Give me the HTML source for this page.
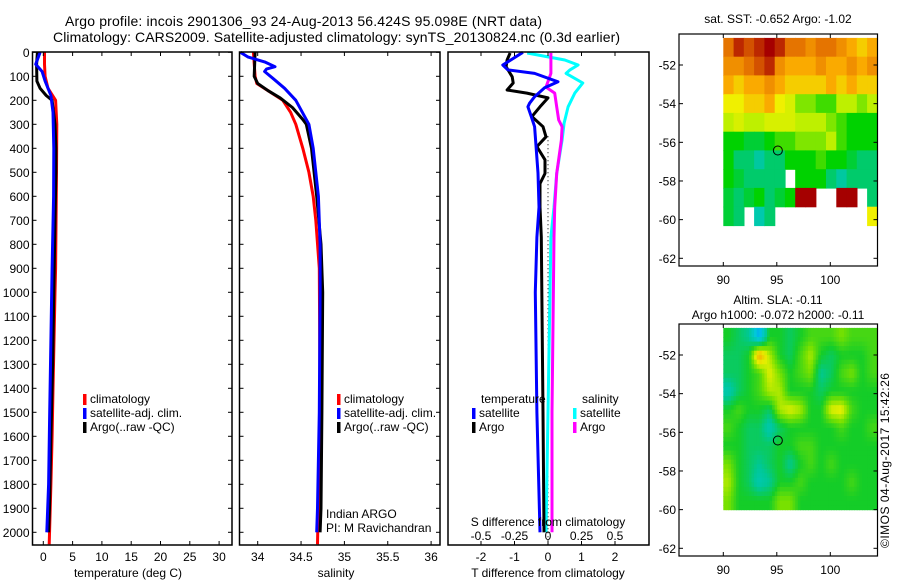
<!DOCTYPE html>
<html><head><meta charset="utf-8">
<style>
html,body{margin:0;padding:0;background:#fff;}
svg{display:block;font-family:"Liberation Sans",sans-serif;}
text{fill:#000;}
</style></head>
<body>
<svg id="chart" width="900" height="580" viewBox="0 0 900 580" xmlns="http://www.w3.org/2000/svg">
<g id="titles">
<text x="65" y="26" font-size="14" textLength="477">Argo profile: incois 2901306_93 24-Aug-2013 56.424S 95.098E (NRT data)</text>
<text x="53" y="42" font-size="14" textLength="567">Climatology: CARS2009. Satellite-adjusted climatology: synTS_20130824.nc (0.3d earlier)</text>
</g>
<g id="p1"></g>
<g id="p2"></g>
<g id="p3"></g>
<g id="m1"></g>
<g id="m2"></g>
<text transform="translate(889,548) rotate(-90)" font-size="12" textLength="175">©IMOS 04-Aug-2017 15:42:26</text>
</svg>
<script>
// ---- data ----
const depthTicks = [0,100,200,300,400,500,600,700,800,900,1000,1100,1200,1300,1400,1500,1600,1700,1800,1900,2000];
const tempTicks = [0,5,10,15,20,25,30];
const salTicks = [34,34.5,35,35.5,36];
const tdiffTicks = [-2,-1,0,1,2];
const sdiffTicks = [-0.5,-0.25,0,0.25,0.5];
const sdiffLabels = ["-0.5","-0.25","0","0.25","0.5"];

const climTDepth = [0,50,100,150,200,300,500,900,1000,1400,1600,1800,2050];
const climT = [0.2,0.2,0.3,0.8,2.1,2.3,2.25,2.1,2.0,1.65,1.5,1.3,1.0];
const satTDepth = [0,50,80,120,180,250,400,600,900,1200,1500,1800,2000];
const satT = [-0.55,-1.3,-0.2,0.3,1.3,1.65,1.8,1.75,1.5,1.3,1.1,0.9,0.6];
const argoTDepth = [0,50,120,150,180,200,300,400,500,700,1000,1300,1600,1900,2000];
const argoT = [-1.0,-1.15,-1.1,-0.55,0.5,1.5,2.0,2.15,2.15,2.0,1.8,1.6,1.3,1.05,0.9];

const climSDepth = [0,100,130,160,200,250,300,400,500,600,700,900,1500,2050];
const climS = [33.95,33.97,33.99,34.12,34.29,34.38,34.44,34.52,34.59,34.64,34.67,34.71,34.72,34.69];
const satSDepth = [0,20,40,60,70,80,110,150,200,300,400,500,600,800,1000,1500,1900,2000];
const satS = [33.8,33.89,34.08,34.2,34.1,34.08,34.18,34.31,34.44,34.59,34.64,34.67,34.7,34.72,34.72,34.71,34.69,34.68];
const argoSDepth = [0,100,130,160,190,230,280,300,400,600,800,1000,1500,1900,2000];
const argoS = [33.97,33.96,34.0,34.12,34.26,34.4,34.52,34.56,34.62,34.68,34.73,34.75,34.74,34.73,34.72];

const dTSatDepth = [0,53,73,88,123,148,185,212,227,268,310,503,645,770,1000,1500,2000];
const dTSat = [-0.75,-1.35,-1.2,-0.4,0.3,-0.1,-0.4,-0.55,-0.6,-0.5,-0.4,-0.3,-0.27,-0.33,-0.38,-0.33,-0.24];
const dTArgoDepth = [3,32,60,102,128,157,170,190,227,268,310,352,393,448,505,547,645,770,1500,2000];
const dTArgo = [-1.13,-1.22,-1.25,-1.07,-1.04,-1.22,-0.63,0,-0.24,-0.48,-0.15,-0.06,-0.33,-0.09,-0.09,-0.24,-0.24,-0.2,-0.15,-0.12];
const dSSatDepth = [3,32,53,73,88,128,170,227,295,365,505,645,770,1500,2000];
const dSSat = [-0.155,0.125,0.225,0.165,0.135,0.26,0.2,0.15,0.12,0.105,0.065,0.045,0.022,0,-0.015];
const dSArgoDepth = [3,88,145,170,227,282,310,365,505,645,770,1500,2000];
const dSArgo = [0.022,0.022,-0.015,0.05,0.065,0.08,0.105,0.1,0.065,0.05,0.045,0.03,0.03];

const mapLonTicks = [90,95,100];
const mapLatTicks = [-52,-54,-56,-58,-60,-62];
const sstGrid = [
[0.85,0.95,0.9,0.95,1,0.95,0.85,0.85,0.8,0.85,0.85,0.8,0.75,0.7,0.75],
[0.8,0.8,0.85,0.9,0.95,0.8,0.75,0.75,0.75,0.8,0.75,0.75,0.8,0.75,0.8],
[0.75,0.7,0.75,0.75,0.8,0.75,0.7,0.7,0.7,0.7,0.75,0.7,0.75,0.7,0.7],
[0.65,0.65,0.7,0.7,0.75,0.65,0.6,0.5,0.5,0.45,0.45,0.55,0.55,0.5,0.55],
[0.55,0.6,0.55,0.55,0.6,0.6,0.6,0.55,0.55,0.55,0.5,0.45,0.4,0.4,0.4],
[0.4,0.4,0.35,0.35,0.4,0.45,0.45,0.5,0.5,0.5,0.55,0.45,0.4,0.4,0.4],
[0.4,0.3,0.3,0.25,0.3,0.3,0.4,0.4,0.4,0.45,0.4,0.4,0.35,0.3,0.3],
[0.4,0.35,0.3,0.3,0.3,0.3,-1,0.4,0.4,0.4,0.3,0.25,0.3,0.3,0.3],
[0.35,0.3,0.35,0.4,0.3,0.35,0.4,1,1,-1,-1,1,1,-1,0.3],
[0.35,0.3,-1,0.2,0.3,-1,-1,-1,-1,-1,-1,-1,-1,-1,0.65]];
const slaGrid = [
[0.4,0.35,0.3,0.1,0.4,0.4,0.35,0.4,0.45,0.45,0.45,0.5,0.45,0.45,0.45],
[0.35,0.35,0.4,0.75,0.55,0.4,0.35,0.45,0.55,0.4,0.35,0.4,0.4,0.4,0.45],
[0.35,0.35,0.4,0.45,0.6,0.5,0.4,0.45,0.5,0.3,0.35,0.45,0.5,0.4,0.45],
[0.25,0.35,0.4,0.45,0.55,0.55,0.4,0.4,0.4,0.35,0.4,0.4,0.4,0.4,0.4],
[0.4,0.45,0.4,0.4,0.35,0.55,0.6,0.55,0.4,0.4,0.6,0.62,0.45,0.4,0.4],
[0.45,0.4,0.35,0.35,0.25,0.35,0.4,0.4,0.4,0.4,0.4,0.45,0.4,0.4,0.45],
[0.4,0.4,0.35,0.35,0.35,0.4,0.4,0.45,0.45,0.4,0.4,0.4,0.4,0.4,0.4],
[0.5,0.4,0.35,0.3,0.35,0.4,0.3,0.4,0.45,0.4,0.45,0.4,0.4,0.4,0.4],
[0.55,0.4,0.35,0.25,0.3,0.4,0.4,0.45,0.4,0.4,0.4,0.4,0.45,0.4,0.4],
[0.5,0.4,0.4,0.4,0.4,0.5,0.5,0.4,0.4,0.4,0.4,0.4,0.4,0.4,0.4]];
const argoLon = 95.098, argoLat = -56.424;

// ---- helpers ----
const NS = "http://www.w3.org/2000/svg";
function mk(tag, attrs, parent) {
  const e = document.createElementNS(NS, tag);
  for (const k in attrs) e.setAttribute(k, attrs[k]);
  parent.appendChild(e);
  return e;
}
const Y = d => 52.3 + d * 0.24;
const TOP = 52, BOT = 545;
const xT = t => 43.3 + t * 5.86;
const xS = s => 257.7 + (s - 34) * 86.7;
const xDT = v => 548 + v * 33.5;
const xDS = v => 548 + v * 134;
const FS = 12;

function frame(g, x0, x1, name) {
  const r = mk('rect', {x:x0, y:TOP, width:x1-x0, height:BOT-TOP, fill:'none', stroke:'#000', 'stroke-width':1.5}, g);
  
  
}
function line(g, depths, vals, fx, color, name) {
  const pts = depths.map((d,i) => fx(vals[i]).toFixed(1) + ',' + Y(d).toFixed(1)).join(' ');
  const p = mk('polyline', {points:pts, fill:'none', stroke:color, 'stroke-width':3, 'stroke-linejoin':'round'}, g);
  
  
}
function depthTicksDraw(g, x0, x1, labels) {
  depthTicks.forEach(d => {
    const y = Y(d);
    mk('line', {x1:x0, y1:y, x2:x0+4, y2:y, stroke:'#000'}, g);
    mk('line', {x1:x1-4, y1:y, x2:x1, y2:y, stroke:'#000'}, g);
    if (labels) {
      const t = mk('text', {x:x0-3, y:y+4.5, 'font-size':FS, 'text-anchor':'end'}, g);
      t.textContent = d;
      
      
    }
  });
}
function xTicksDraw(g, ticks, labels, fx, ly) {
  ticks.forEach((v,i) => {
    const x = fx(v);
    mk('line', {x1:x, y1:TOP, x2:x, y2:TOP+4, stroke:'#000'}, g);
    mk('line', {x1:x, y1:BOT-4, x2:x, y2:BOT, stroke:'#000'}, g);
    const t = mk('text', {x:x, y:ly, 'font-size':FS, 'text-anchor':'middle'}, g);
    t.textContent = labels[i];
    
    
  });
}
function legendEntry(g, x, y, color, label) {
  const m = mk('rect', {x:x, y:y-9, width:3.5, height:11, fill:color}, g);
  
  
  const t = mk('text', {x:x+7, y:y, 'font-size':FS}, g);
  t.textContent = label;
  
  
}
function txt(g, x, y, s, size, anchor, name) {
  const t = mk('text', {x:x, y:y, 'font-size':size, 'text-anchor':anchor||'start'}, g);
  t.textContent = s;
  
  
  return t;
}

// ---- panel 1: temperature ----
const p1 = document.getElementById('p1');
line(p1, climTDepth, climT, xT, '#f00', 'climatology-temperature-line');
line(p1, argoTDepth, argoT, xT, '#000', 'argo-temperature-line');
line(p1, satTDepth, satT, xT, '#00f', 'satellite-temperature-line');
frame(p1, 32.5, 232, 'temperature-axes');
depthTicksDraw(p1, 32.5, 232, true);
xTicksDraw(p1, tempTicks, tempTicks.map(String), xT, 561);
txt(p1, 128, 577, 'temperature (deg C)', FS, 'middle', 'x-axis-title-temperature');
legendEntry(p1, 83, 403, '#f00', 'climatology');
legendEntry(p1, 83, 417, '#00f', 'satellite-adj. clim.');
legendEntry(p1, 83, 431, '#000', 'Argo(..raw -QC)');

// ---- panel 2: salinity ----
const p2 = document.getElementById('p2');
line(p2, climSDepth, climS, xS, '#f00', 'climatology-salinity-line');
line(p2, argoSDepth, argoS, xS, '#000', 'argo-salinity-line');
line(p2, satSDepth, satS, xS, '#00f', 'satellite-salinity-line');
frame(p2, 239.5, 440, 'salinity-axes');
depthTicksDraw(p2, 239.5, 440, false);
xTicksDraw(p2, salTicks, salTicks.map(String), xS, 561);
txt(p2, 336, 577, 'salinity', FS, 'middle', 'x-axis-title-salinity');
legendEntry(p2, 337, 403, '#f00', 'climatology');
legendEntry(p2, 337, 417, '#00f', 'satellite-adj. clim.');
legendEntry(p2, 337, 431, '#000', 'Argo(..raw -QC)');
txt(p2, 326, 518, 'Indian ARGO', FS, 'start', 'credit-indian-argo');
txt(p2, 326, 532, 'PI: M Ravichandran', FS, 'start', 'credit-pi');

// ---- panel 3: differences ----
const p3 = document.getElementById('p3');
const zl = mk('line', {x1:xDT(0), y1:Y(350), x2:xDT(0), y2:BOT, stroke:'#000', 'stroke-dasharray':'1,3'}, p3);


line(p3, dSSatDepth, dSSat, xDS, '#0ff', 'salinity-satellite-diff-line');
line(p3, dSArgoDepth, dSArgo, xDS, '#f0f', 'salinity-argo-diff-line');
line(p3, dTArgoDepth, dTArgo, xDT, '#000', 'temperature-argo-diff-line');
line(p3, dTSatDepth, dTSat, xDT, '#00f', 'temperature-satellite-diff-line');
frame(p3, 448, 649, 'difference-axes');
xTicksDraw(p3, tdiffTicks, tdiffTicks.map(String), xDT, 561);
sdiffTicks.forEach((v,i) => {
  txt(p3, xDS(v), 540, sdiffLabels[i], FS, 'middle', 'top-tick-label');
});
txt(p3, 548, 526, 'S difference from climatology', FS, 'middle', 's-diff-axis-title');
txt(p3, 548, 577, 'T difference from climatology', FS, 'middle', 't-diff-axis-title');
txt(p3, 481, 403, 'temperature', FS, 'start', 'legend-title-temperature');
txt(p3, 582, 403, 'salinity', FS, 'start', 'legend-title-salinity');
legendEntry(p3, 472, 417, '#00f', 'satellite');
legendEntry(p3, 472, 431, '#000', 'Argo');
legendEntry(p3, 573, 417, '#0ff', 'satellite');
legendEntry(p3, 573, 431, '#f0f', 'Argo');

// ---- maps ----
const sstStops = [[0,[0,205,230]],[0.25,[0,200,160]],[0.4,[0,210,0]],[0.55,[190,240,0]],[0.65,[240,240,0]],[0.75,[250,170,0]],[0.87,[225,105,0]],[1,[165,0,0]]];
const slaStops = [[0,[0,90,230]],[0.15,[0,200,230]],[0.3,[0,200,150]],[0.4,[20,205,40]],[0.5,[120,225,0]],[0.6,[230,240,0]],[0.75,[250,160,0]],[1,[200,0,0]]];
function cmap(stops, v) {
  for (let i=1;i<stops.length;i++) {
    if (v <= stops[i][0]) {
      const a = stops[i-1], b = stops[i], f = (v-a[0])/(b[0]-a[0]);
      const c = a[1].map((x,k) => Math.round(x + f*(b[1][k]-x)));
      return 'rgb(' + c.join(',') + ')';
    }
  }
  const l = stops[stops.length-1][1];
  return 'rgb(' + l.join(',') + ')';
}
function sample(grid, r, c) {
  const R = grid.length, C = grid[0].length;
  r = Math.max(0, Math.min(R-1, r)); c = Math.max(0, Math.min(C-1, c));
  const r0 = Math.floor(r), c0 = Math.floor(c), r1 = Math.min(R-1, r0+1), c1 = Math.min(C-1, c0+1);
  const fr = r - r0, fc = c - c0;
  return grid[r0][c0]*(1-fr)*(1-fc) + grid[r0][c1]*(1-fr)*fc + grid[r1][c0]*fr*(1-fc) + grid[r1][c1]*fr*fc;
}
function drawMap(gid, fy, title1, title2, grid, top, latTop, latBot, stops, sub) {
  const g = document.getElementById(gid);
  const lonX = lon => 723.3 + (lon - 90) * 10.7;
  const latY = lat => fy + (-52 - lat) * 19.33;
  const rows = grid.length * sub, cols = grid[0].length * sub;
  const lon0 = 90, lon1 = 104.4, dlon = (lon1 - lon0) / cols, dlat = (latTop - latBot) / rows;
  for (let r = 0; r < rows; r++) for (let c = 0; c < cols; c++) {
    let v;
    if (sub === 1) v = grid[r][c];
    else v = sample(grid, (r + 0.5) / sub - 0.5, (c + 0.5) / sub - 0.5);
    if (v < 0) continue;
    const x0 = lonX(lon0 + c*dlon), x1 = lonX(lon0 + (c+1)*dlon);
    const y0 = latY(latTop - r*dlat), y1 = latY(latTop - (r+1)*dlat);
    const cell = mk('rect', {x:x0.toFixed(1), y:y0.toFixed(1), width:(x1-x0+0.6).toFixed(1), height:(y1-y0+0.6).toFixed(1), fill:cmap(stops, v)}, g);
    
    
  }
  const fr = mk('rect', {x:679, y:top, width:198.5, height:232, fill:'none', stroke:'#000', 'stroke-width':1.2}, g);
  
  
  mapLatTicks.forEach(lat => {
    const y = latY(lat);
    mk('line', {x1:679, y1:y, x2:683, y2:y, stroke:'#000'}, g);
    mk('line', {x1:873.5, y1:y, x2:877.5, y2:y, stroke:'#000'}, g);
    txt(g, 676, y+4.5, String(lat), FS, 'end', 'lat-tick-label');
  });
  mapLonTicks.forEach(lon => {
    const x = lonX(lon);
    mk('line', {x1:x, y1:top, x2:x, y2:top+4, stroke:'#000'}, g);
    mk('line', {x1:x, y1:top+228, x2:x, y2:top+232, stroke:'#000'}, g);
    txt(g, x, top+250, String(lon), FS, 'middle', 'lon-tick-label');
  });
  const c = mk('circle', {cx:lonX(argoLon), cy:latY(argoLat), r:4.5, fill:'none', stroke:'#000', 'stroke-width':1}, g);
  
  
  if (title2) {
    txt(g, 778, top-20, title1, 12, 'middle', 'map-title');
    txt(g, 778, top-5, title2, 12, 'middle', 'map-subtitle');
  } else {
    txt(g, 778, top-11, title1, 12, 'middle', 'map-title');
  }
}
drawMap('m1', 65, 'sat. SST: -0.652 Argo: -1.02', null, sstGrid, 34, -50.6, -60.3, sstStops, 1);
drawMap('m2', 355, 'Altim. SLA: -0.11', 'Argo h1000: -0.072 h2000: -0.11', slaGrid, 324, -50.6, -60, slaStops, 4);
</script>
</body></html>
